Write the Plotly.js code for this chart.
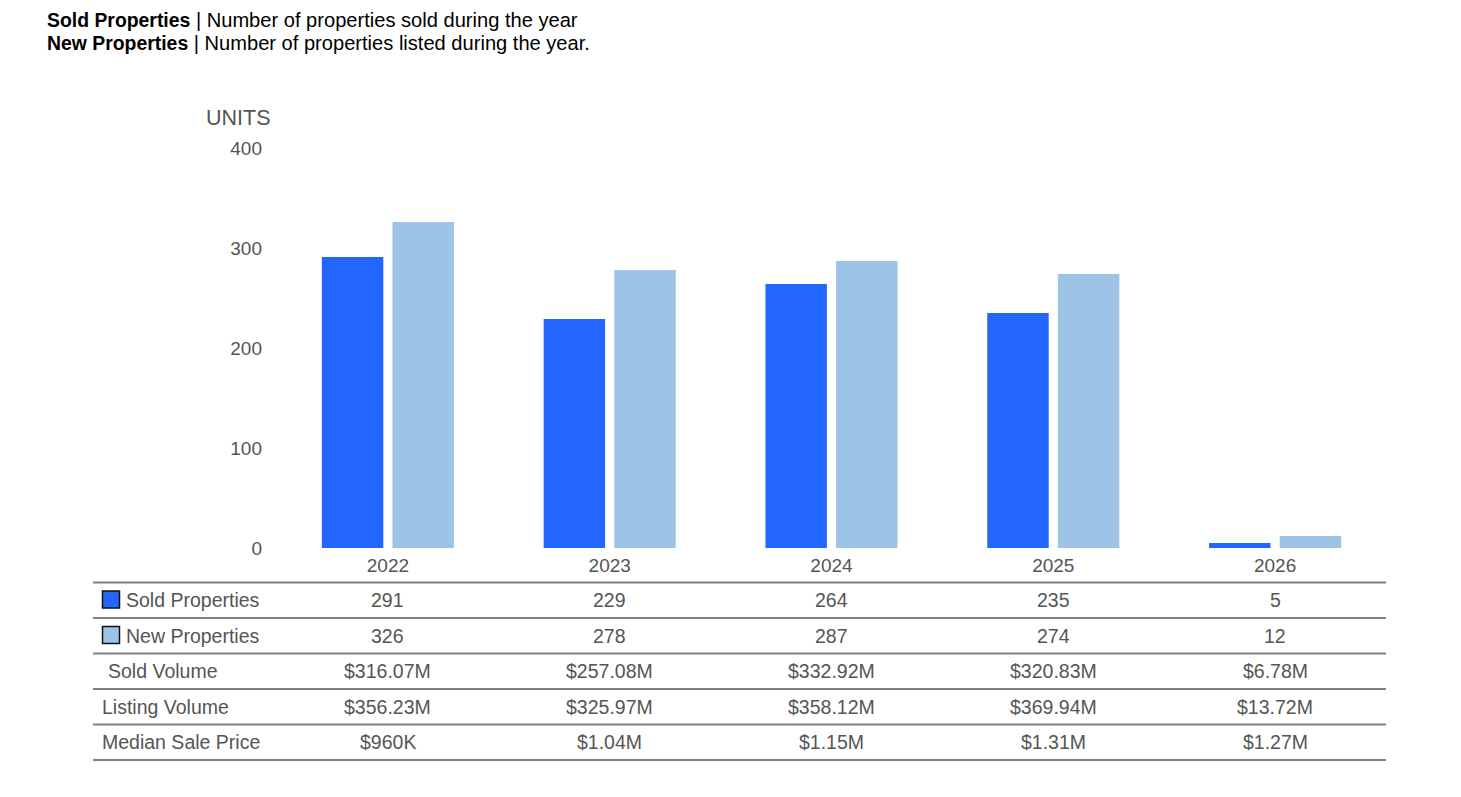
<!DOCTYPE html>
<html>
<head>
<meta charset="utf-8">
<script src="https://cdn.plot.ly/plotly-3.0.1.min.js"></script>
<style>html,body{margin:0;padding:0;background:#fff;}#chart{width:1461px;height:797px;}</style>
</head>
<body>
<div id="chart"></div>
<script>
var years = ['2022', '2023', '2024', '2025', '2026'];
var soldProperties = [291, 229, 264, 235, 5];
var newProperties = [326, 278, 287, 274, 12];
var soldVolume = ['$316.07M', '$257.08M', '$332.92M', '$320.83M', '$6.78M'];
var listingVolume = ['$356.23M', '$325.97M', '$358.12M', '$369.94M', '$13.72M'];
var medianSalePrice = ['$960K', '$1.04M', '$1.15M', '$1.31M', '$1.27M'];
var rowLabels = ['Sold Properties', 'New Properties', 'Sold Volume', 'Listing Volume', 'Median Sale Price'];
var yTicks = [0, 100, 200, 300, 400];

var SOLD_COLOR = '#2266FF';
var NEW_COLOR = '#9DC3E6';
var TEXT_GRAY = '#555555';
var FONT = 'Liberation Sans, Arial, sans-serif';

var W = 1461, H = 797;
var mL = 277, mR = 75, mT = 148, mB = 249;
var plotW = W - mL - mR, plotH = H - mT - mB;
function px2x(px) { return (px - mL) / plotW; }
function py2y(py) { return (H - mB - py) / plotH; }

var traces = [
  {type: 'bar', name: 'Sold Properties', x: years, y: soldProperties, marker: {color: SOLD_COLOR}, hoverinfo: 'x+y+name'},
  {type: 'bar', name: 'New Properties', x: years, y: newProperties, marker: {color: NEW_COLOR}, hoverinfo: 'x+y+name'}
];

var rowValues = [
  soldProperties.map(String),
  newProperties.map(String),
  soldVolume,
  listingVolume,
  medianSalePrice
];

var lineYs = [582.5, 618, 653.5, 689, 724.5, 760];
var shapes = [];
var annotations = [];

lineYs.forEach(function (ly) {
  shapes.push({type: 'line', xref: 'paper', yref: 'paper', x0: px2x(93), x1: px2x(1386), y0: py2y(ly), y1: py2y(ly),
    line: {color: '#808080', width: 2}});
});

// legend swatches in the table
[SOLD_COLOR, NEW_COLOR].forEach(function (c, i) {
  var top = lineYs[i] + 8.5, bot = lineYs[i] + 25.5;
  shapes.push({type: 'rect', xref: 'paper', yref: 'paper', x0: px2x(102.5), x1: px2x(119.5), y0: py2y(bot), y1: py2y(top),
    fillcolor: c, line: {color: '#111111', width: 1.5}});
});

var labelX = [124, 124, 106, 100, 100];
rowLabels.forEach(function (lab, i) {
  var cy = (lineYs[i] + lineYs[i + 1]) / 2;
  annotations.push({xref: 'paper', yref: 'paper', x: px2x(labelX[i]), y: py2y(cy), xanchor: 'left', yanchor: 'middle',
    text: lab, showarrow: false, font: {family: FONT, size: 19.5, color: TEXT_GRAY}});
  rowValues[i].forEach(function (v, j) {
    annotations.push({xref: 'x', yref: 'paper', x: j, y: py2y(cy), xanchor: 'center', yanchor: 'middle',
      text: v, showarrow: false, font: {family: FONT, size: 19.5, color: TEXT_GRAY}});
  });
});

annotations.push({xref: 'paper', yref: 'paper', x: px2x(273), y: py2y(118), xanchor: 'right', yanchor: 'middle',
  text: 'UNITS', showarrow: false, font: {family: FONT, size: 21.5, color: TEXT_GRAY}});

function headerLine(bold, rest) {
  return '<span style="font-size:19.4px"><b>' + bold + '</b></span><span style="font-size:20.1px"> | ' + rest + '</span>';
}

var layout = {
  width: W, height: H,
  margin: {l: mL, r: mR, t: mT, b: mB, pad: 0},
  paper_bgcolor: '#ffffff', plot_bgcolor: '#ffffff',
  showlegend: false,
  barmode: 'group', bargap: 0.363, bargroupgap: 0.13,
  title: {
    text: headerLine('Sold Properties', 'Number of properties sold during the year') + '<br>' +
          headerLine('New Properties', 'Number of properties listed during the year.'),
    x: 47 / W, xref: 'container', xanchor: 'left',
    y: 1 - 27 / H, yref: 'container', yanchor: 'top',
    font: {family: FONT, size: 18, color: '#000000'}
  },
  xaxis: {
    type: 'category', range: [-0.5, 4.5], autorange: false,
    showgrid: false, zeroline: false, showline: false, ticks: '',
    tickfont: {family: FONT, size: 19, color: TEXT_GRAY}, ticklabelstandoff: 4, fixedrange: true
  },
  yaxis: {
    range: [0, 400], autorange: false, tickvals: yTicks, ticktext: yTicks.map(String),
    showgrid: false, zeroline: false, showline: false, ticks: '',
    tickfont: {family: FONT, size: 19, color: TEXT_GRAY}, ticklabelstandoff: 14, fixedrange: true
  },
  shapes: shapes,
  annotations: annotations
};

Plotly.newPlot('chart', traces, layout, {displayModeBar: false, responsive: false});
</script>
</body>
</html>
